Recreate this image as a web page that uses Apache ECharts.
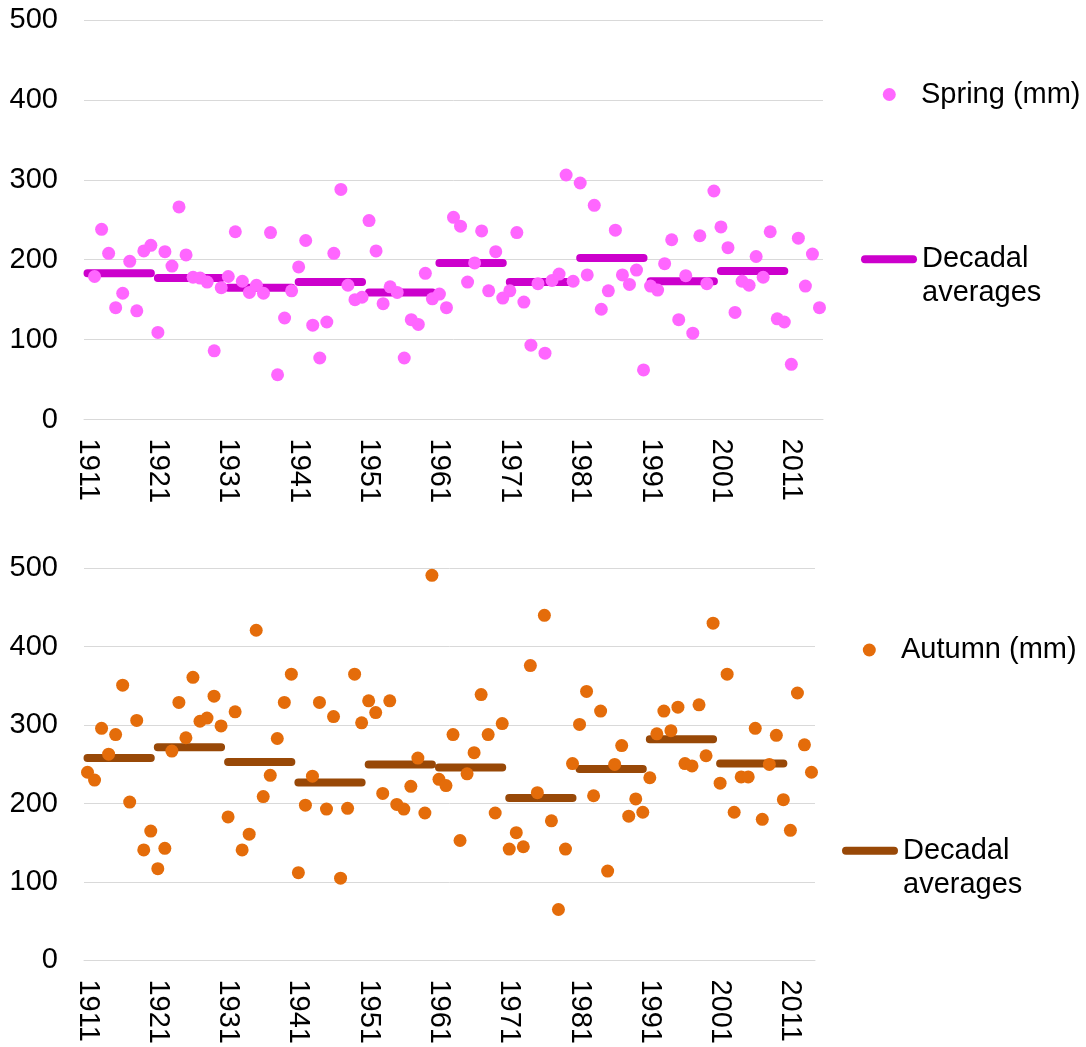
<!DOCTYPE html>
<html>
<head>
<meta charset="utf-8">
<script src="https://cdn.jsdelivr.net/npm/echarts@6/dist/echarts.min.js"></script>
<style>
  html, body { margin: 0; padding: 0; background: #fff; }
  #chart { width: 1086px; height: 1047px; }
</style>
</head>
<body>
<div id="chart"></div>
<script>
// Categories (years)
const firstYear = 1911;
const springYears = [];
for (let y = firstYear; y <= 2015; y++) springYears.push(String(y));
const autumnYears = springYears.slice(0, 104);

// Spring rainfall (mm), 1911..2015 (1911 missing)
const springMm = ['-',
  179, 238, 208, 140, 158, 198, 136, 211, 218,
  109, 210, 192, 266, 206, 178, 177, 172, 86, 165,
  179, 235, 173, 159, 168, 158, 234, 56, 127, 161,
  191, 224, 118, 77, 122, 208, 288, 168, 150, 153,
  249, 211, 145, 166, 159, 77, 125, 119, 183, 151,
  157, 140, 253, 242, 172, 196, 236, 161, 210, 152,
  161, 234, 147, 93, 170, 83, 174, 182, 306, 173,
  296, 181, 268, 138, 161, 237, 181, 169, 187, 62,
  167, 162, 195, 225, 125, 180, 108, 230, 170, 286,
  241, 215, 134, 173, 168, 204, 178, 235, 126, 122,
  69, 227, 167, 207, 140
];

// Autumn rainfall (mm), 1911..2014
const autumnMm = [
  240, 230, 296, 263, 288, 351, 202, 306, 141, 165,
  117, 143, 267, 329, 284, 361, 305, 309, 337, 299,
  183, 317, 141, 161, 421, 209, 236, 283, 329, 365,
  112, 198, 235, 329, 193, 311, 105, 194, 365, 303,
  331, 316, 213, 331, 199, 193, 222, 258, 188, 491,
  231, 223, 288, 153, 238, 265, 339, 288, 188, 302,
  142, 163, 145, 376, 214, 440, 178, 65, 142, 251,
  301, 343, 210, 318, 114, 250, 274, 184, 206, 189,
  233, 289, 318, 293, 323, 251, 248, 326, 261, 430,
  226, 365, 189, 234, 234, 296, 180, 250, 287, 205,
  166, 341, 275, 240
];

// Decadal averages (1911-1920, 1921-1930, ..., 2001-2010)
const springDecadal = [183, 177, 165, 172, 159, 196, 172, 202, 173, 186];
const autumnDecadal = [258, 272, 253, 227, 250, 246, 207, 244, 282, 251];

const yTicks = { min: 0, max: 500, interval: 100 };

const FONT = "'Liberation Sans', Arial, sans-serif";
const FS = 29;
const springDot = '#FF66FF', springLine = '#CC00CC';
const autumnDot = '#E46C0A', autumnLine = '#984807';
const capsule = 'path://M4,0L52,0A4,4,0,0,1,52,8L4,8A4,4,0,0,1,4,0Z';

function decadeSeries(avgs, n, name, color, xi) {
  return avgs.map((v, d) => {
    const data = [];
    for (let i = 0; i < n; i++) data.push(i >= d * 10 && i < d * 10 + 10 ? v : '-');
    return {
      type: 'line', name: name, xAxisIndex: xi, yAxisIndex: xi, data: data,
      symbol: 'none', showSymbol: false, z: 2, connectNulls: false,
      color: color, itemStyle: { color: color },
      lineStyle: { color: color, width: 8, cap: 'round' }
    };
  });
}

function xAxis(gi, cats) {
  return {
    type: 'category', gridIndex: gi, data: cats, boundaryGap: true,
    axisLine: { show: true, lineStyle: { color: '#d9d9d9', width: 1 } },
    axisTick: { show: false },
    axisLabel: { interval: 9, rotate: -90, margin: 19, fontSize: FS, fontFamily: FONT, color: '#000' },
    splitLine: { show: false }
  };
}
function yAxis(gi) {
  return {
    type: 'value', gridIndex: gi, min: yTicks.min, max: yTicks.max, interval: yTicks.interval,
    axisLine: { show: false }, axisTick: { show: false },
    axisLabel: { margin: 26, fontSize: FS, fontFamily: FONT, color: '#000' },
    splitLine: { show: true, lineStyle: { color: '#d9d9d9', width: 1 } }
  };
}
const ts = { fontSize: FS, fontFamily: FONT, color: '#000', lineHeight: 34 };

const option = {
  backgroundColor: '#fff',
  animation: false,
  grid: [
    { left: 84, top: 20, width: 739, height: 399.5 },
    { left: 84, top: 568.3, width: 731, height: 398.4 }
  ],
  xAxis: [xAxis(0, springYears), xAxis(1, autumnYears)],
  yAxis: [yAxis(0), yAxis(1)],
  legend: [
    { data: [{ name: 'Spring (mm)', icon: 'circle' }], left: 882.8, top: 77.5, padding: 0,
      itemWidth: 53.4, itemHeight: 13, selectedMode: false, textStyle: ts },
    { data: [{ name: 'springAvg', icon: capsule, itemStyle: { color: springLine, borderWidth: 0 } }],
      left: 861, top: 208.3, padding: 0, itemWidth: 56, itemHeight: 8, selectedMode: false,
      formatter: () => '\nDecadal\naverages', textStyle: ts },
    { data: [{ name: 'Autumn (mm)', icon: 'circle' }], left: 862.8, top: 633, padding: 0,
      itemWidth: 53.4, itemHeight: 13, selectedMode: false, textStyle: ts },
    { data: [{ name: 'autumnAvg', icon: capsule, itemStyle: { color: autumnLine, borderWidth: 0 } }],
      left: 842, top: 799.7, padding: 0, itemWidth: 56, itemHeight: 8, selectedMode: false,
      formatter: () => '\nDecadal\naverages', textStyle: ts }
  ],
  series: [
    ...decadeSeries(springDecadal, springYears.length, 'springAvg', springLine, 0),
    ...decadeSeries(autumnDecadal, autumnYears.length, 'autumnAvg', autumnLine, 1),
    { type: 'scatter', name: 'Spring (mm)', xAxisIndex: 0, yAxisIndex: 0, data: springMm,
      symbol: 'circle', symbolSize: 13, z: 3, itemStyle: { color: springDot, opacity: 1 } },
    { type: 'scatter', name: 'Autumn (mm)', xAxisIndex: 1, yAxisIndex: 1, data: autumnMm,
      symbol: 'circle', symbolSize: 13, z: 3, itemStyle: { color: autumnDot, opacity: 1 } }
  ]
};

const chart = echarts.init(document.getElementById('chart'), null, { renderer: 'canvas' });
chart.setOption(option);
</script>
</body>
</html>
